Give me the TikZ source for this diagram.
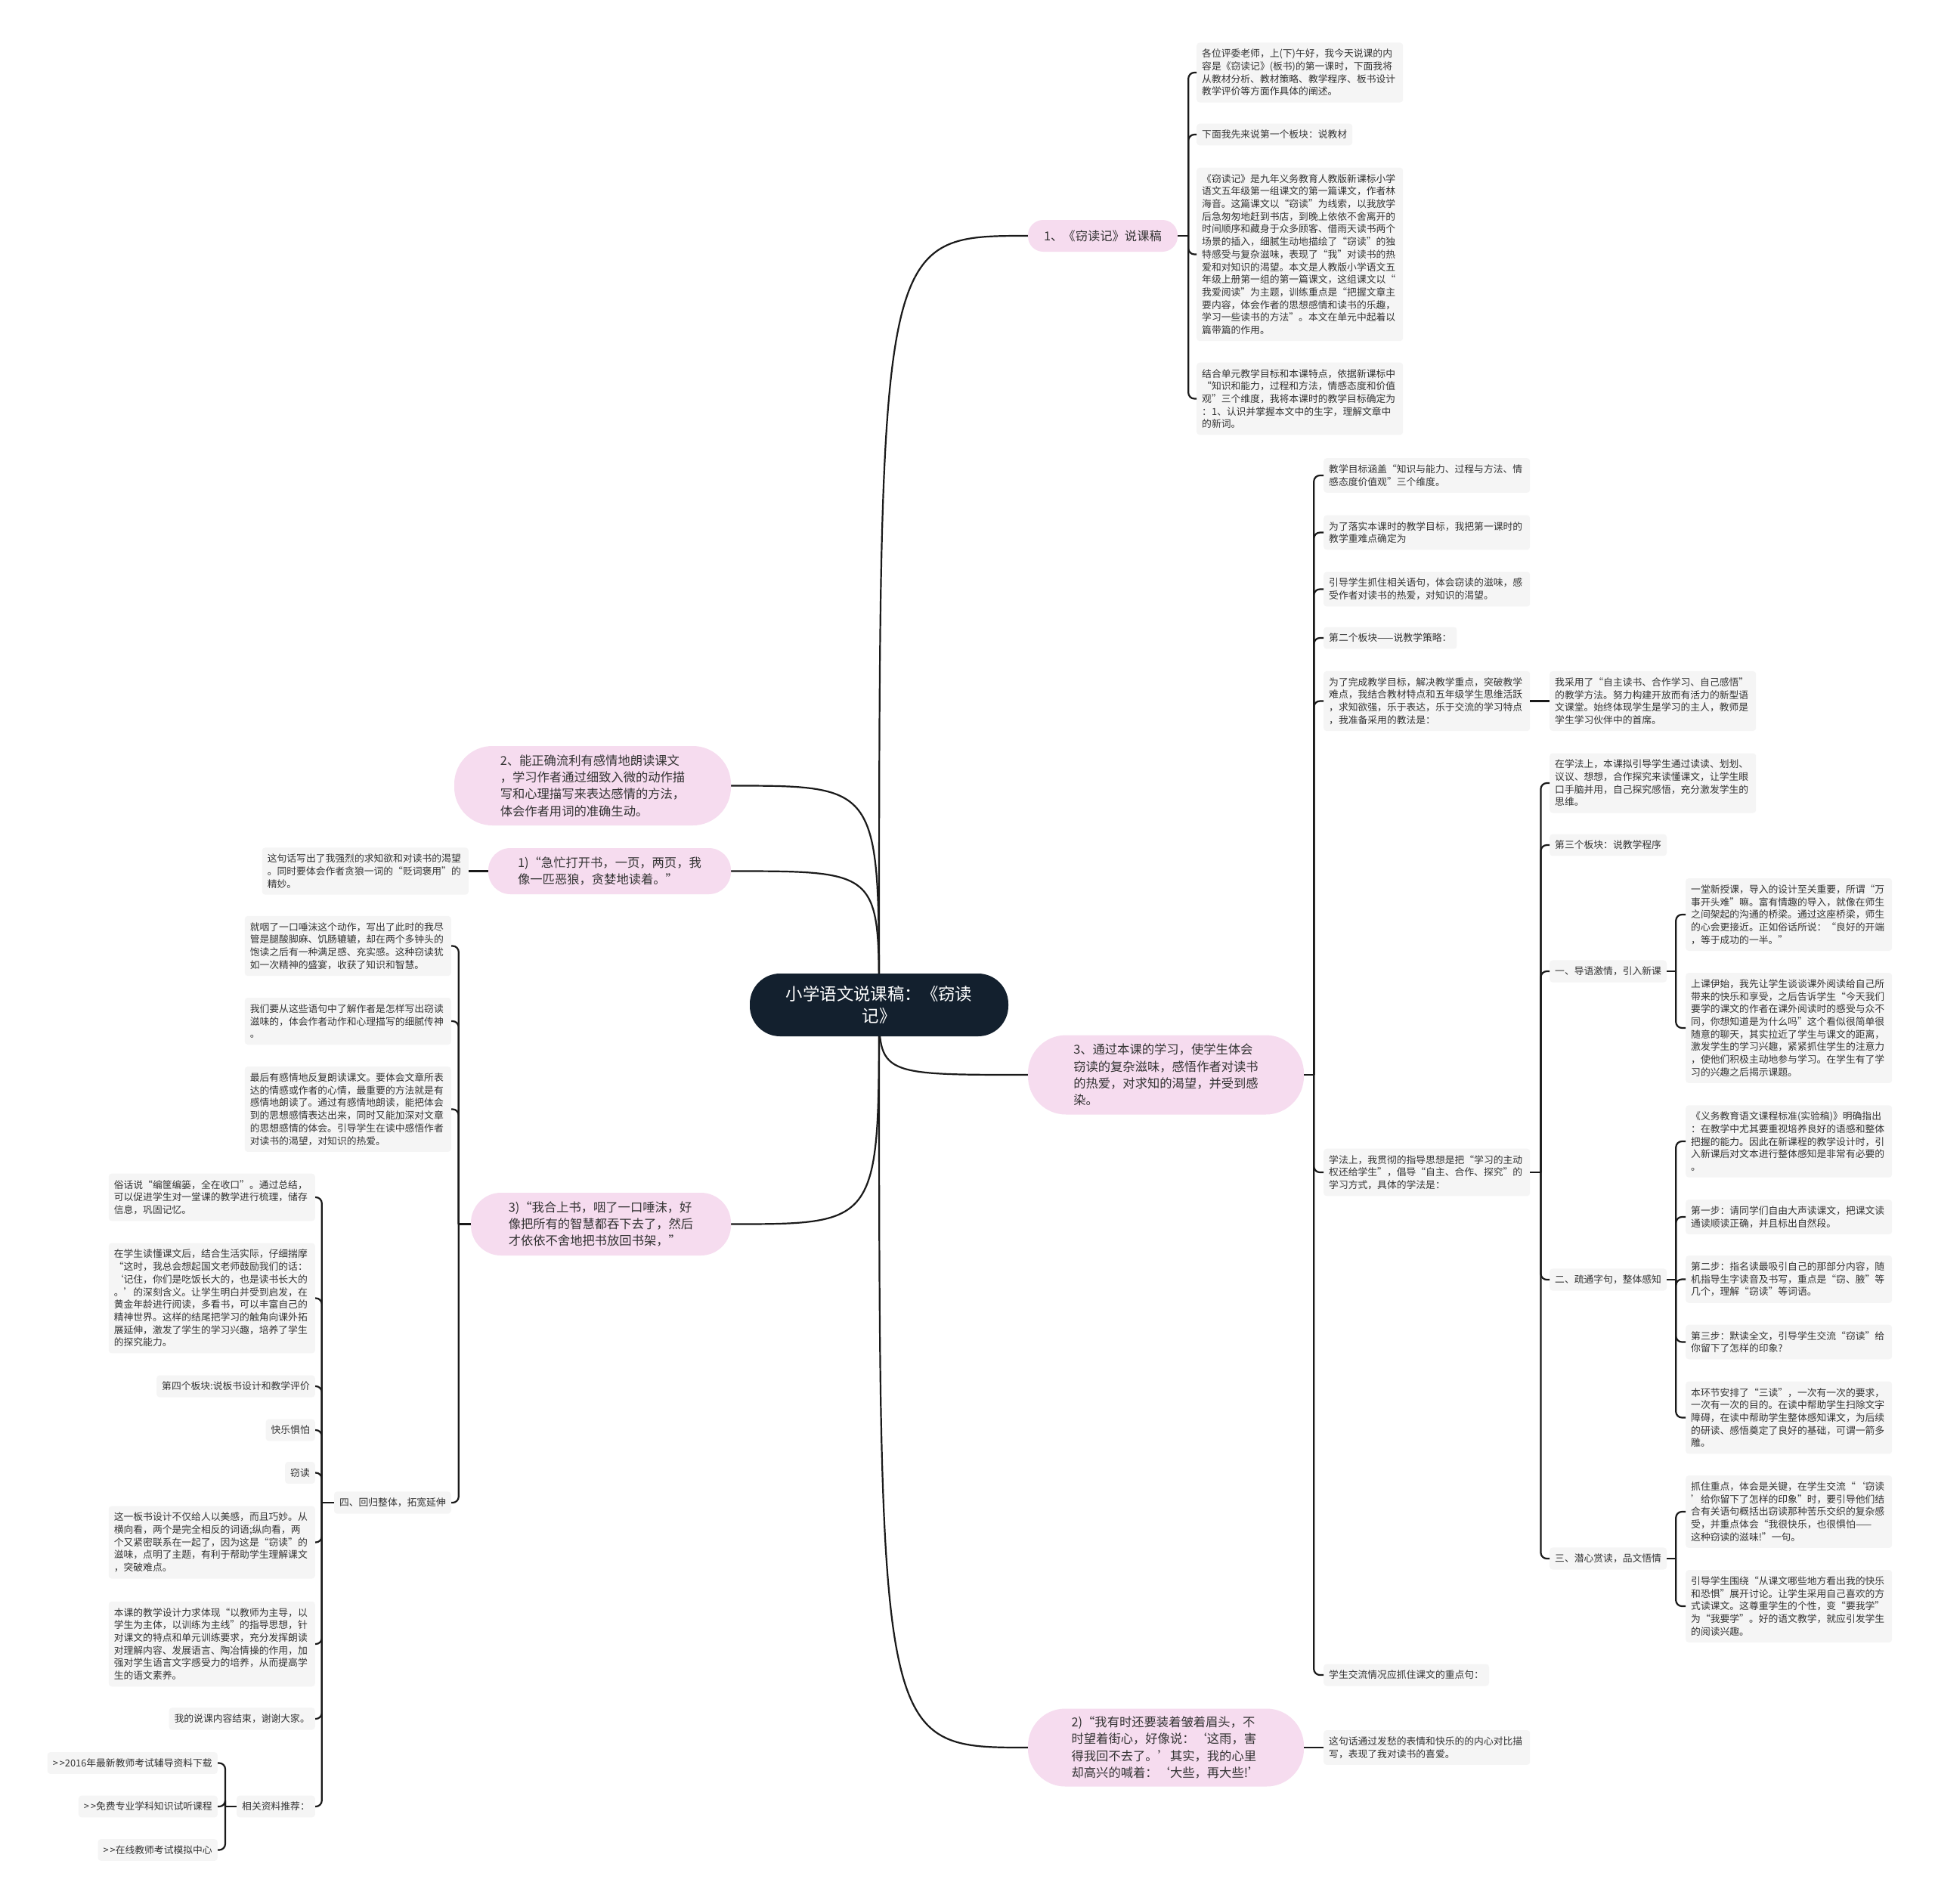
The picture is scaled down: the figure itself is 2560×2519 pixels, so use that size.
\documentclass[tikz,border=0pt]{standalone}
\usepackage{fontspec}
\setmainfont{Noto Sans CJK SC}
\usetikzlibrary{calc, backgrounds}
\definecolor{rootnavy}{HTML}{13202E}
\definecolor{pillpink}{HTML}{F6DCEF}
\definecolor{leafgray}{HTML}{F5F5F5}
\definecolor{inkgray}{HTML}{333333}
\definecolor{linkblack}{HTML}{1A1A1A}

\begin{document}
\begin{tikzpicture}[x=1pt, y=-1pt,
    link/.style={line width=2.2pt, draw=linkblack},
    hook/.style={link, rounded corners=8pt},
    rootnode/.style={fill=rootnavy, text=white, align=center, font=\fontsize{22.4}{29}\selectfont,
      minimum width=342pt, minimum height=83pt, rounded corners=40pt, inner sep=0pt},
    pill/.style 2 args={fill=pillpink, text=inkgray, align=left, font=\fontsize{16.3}{22.3}\selectfont,
      minimum width=#1, minimum height=#2, rounded corners=#2*0.48, inner sep=0pt},
    leaf/.style={fill=leafgray, text=inkgray, align=left, font=\fontsize{12.8}{16.7}\selectfont,
      rounded corners=4pt, inner xsep=7pt, inner ysep=8.5pt},
    para/.style={leaf, text width=259pt}]
  \useasboundingbox (0,0) rectangle (2560,2519);

  % centre
  \node[rootnode] (root) at (1163,1329.5) {小学语文说课稿：《窃读\\记》};

  % main branches, right
  \node[pill={198pt}{42pt}] (lecture) at (1459,312) {1、《窃读记》说课稿};
  \node[pill={365pt}{105pt}] (goalthree) at (1542.5,1422) {3、通过本课的学习，使学生体会\\窃读的复杂滋味，感悟作者对读书\\的热爱，对求知的渴望，并受到感\\染。};
  \node[pill={365pt}{103pt}] (quotetwo) at (1542.5,2312) {2)“我有时还要装着皱着眉头，不\\时望着街心，好像说：‘这雨，害\\得我回不去了。’其实，我的心里\\却高兴的喊着：‘大些，再大些!’};

  % main branches, left
  \node[pill={366pt}{105pt}] (goaltwo) at (784,1039.5) {2、能正确流利有感情地朗读课文\\，学习作者通过细致入微的动作描\\写和心理描写来表达感情的方法，\\体会作者用词的准确生动。};
  \node[pill={321pt}{61pt}] (quoteone) at (806.5,1152.5) {1)“急忙打开书，一页，两页，我\\像一匹恶狼，贪婪地读着。”};
  \node[pill={344pt}{83pt}] (quotethree) at (795,1619.5) {3)“我合上书，咽了一口唾沫，好\\像把所有的智慧都吞下去了，然后\\才依依不舍地把书放回书架，”};

  % 1、说课稿
  \node[para, anchor=west] (greet) at (1583,96) {各位评委老师，上(下)午好，我今天说课的内\\容是《窃读记》(板书)的第一课时，下面我将\\从教材分析、教材策略、教学程序、板书设计\\教学评价等方面作具体的阐述。};
  \node[leaf, anchor=west] (blockone) at (1583,178) {下面我先来说第一个板块：说教材};
  \node[para, anchor=west] (textbook) at (1583,336.5) {《窃读记》是九年义务教育人教版新课标小学\\语文五年级第一组课文的第一篇课文，作者林\\海音。这篇课文以“窃读”为线索，以我放学\\后急匆匆地赶到书店，到晚上依依不舍离开的\\时间顺序和藏身于众多顾客、借雨天读书两个\\场景的插入，细腻生动地描绘了“窃读”的独\\特感受与复杂滋味，表现了“我”对读书的热\\爱和对知识的渴望。本文是人教版小学语文五\\年级上册第一组的第一篇课文，这组课文以“\\我爱阅读”为主题，训练重点是“把握文章主\\要内容，体会作者的思想感情和读书的乐趣，\\学习一些读书的方法”。本文在单元中起着以\\篇带篇的作用。};
  \node[para, anchor=west] (aims) at (1583,527.5) {结合单元教学目标和本课特点，依据新课标中\\“知识和能力，过程和方法，情感态度和价值\\观”三个维度，我将本课时的教学目标确定为\\：1、认识并掌握本文中的生字，理解文章中\\的新词。};

  % 3、
  \node[para, anchor=west] (dims) at (1751,629) {教学目标涵盖“知识与能力、过程与方法、情\\感态度价值观”三个维度。};
  \node[para, anchor=west] (focus) at (1751,704.5) {为了落实本课时的教学目标，我把第一课时的\\教学重难点确定为};
  \node[para, anchor=west] (guide) at (1751,779.5) {引导学生抓住相关语句，体会窃读的滋味，感\\受作者对读书的热爱，对知识的渴望。};
  \node[leaf, anchor=west] (blocktwo) at (1751,844) {第二个板块——说教学策略：};
  \node[para, anchor=west] (method) at (1751,927.5) {为了完成教学目标，解决教学重点，突破教学\\难点，我结合教材特点和五年级学生思维活跃\\，求知欲强，乐于表达，乐于交流的学习特点\\，我准备采用的教法是：};
  \node[para, anchor=west] (teachway) at (2050,927.5) {我采用了“自主读书、合作学习、自己感悟”\\的教学方法。努力构建开放而有活力的新型语\\文课堂。始终体现学生是学习的主人，教师是\\学生学习伙伴中的首席。};
  \node[para, anchor=west] (study) at (1751,1551) {学法上，我贯彻的指导思想是把“学习的主动\\权还给学生”，倡导“自主、合作、探究”的\\学习方式，具体的学法是：};
  \node[leaf, anchor=west] (keyline) at (1751,2216) {学生交流情况应抓住课文的重点句：};

  % 学法
  \node[para, anchor=west] (studyway) at (2050,1036) {在学法上，本课拟引导学生通过读读、划划、\\议议、想想，合作探究来读懂课文，让学生眼\\口手脑并用，自己探究感悟，充分激发学生的\\思维。};
  \node[leaf, anchor=west] (blockthree) at (2050,1118) {第三个板块：说教学程序};
  \node[leaf, anchor=west] (stepone) at (2050,1285) {一、导语激情，引入新课};
  \node[leaf, anchor=west] (steptwo) at (2050,1693) {二、疏通字句，整体感知};
  \node[leaf, anchor=west] (stepthree) at (2050,2062) {三、潜心赏读，品文悟情};

  \node[para, anchor=west] (lead) at (2230,1210) {一堂新授课，导入的设计至关重要，所谓“万\\事开头难”嘛。富有情趣的导入，就像在师生\\之间架起的沟通的桥梁。通过这座桥梁，师生\\的心会更接近。正如俗话所说：“良好的开端\\，等于成功的一半。”};
  \node[para, anchor=west] (opening) at (2230,1360) {上课伊始，我先让学生谈谈课外阅读给自己所\\带来的快乐和享受，之后告诉学生“今天我们\\要学的课文的作者在课外阅读时的感受与众不\\同，你想知道是为什么吗”这个看似很简单很\\随意的聊天，其实拉近了学生与课文的距离，\\激发学生的学习兴趣，紧紧抓住学生的注意力\\，使他们积极主动地参与学习。在学生有了学\\习的兴趣之后揭示课题。};

  \node[para, anchor=west] (standard) at (2230,1510) {《义务教育语文课程标准(实验稿)》明确指出\\：在教学中尤其要重视培养良好的语感和整体\\把握的能力。因此在新课程的教学设计时，引\\入新课后对文本进行整体感知是非常有必要的\\。};
  \node[para, anchor=west] (readone) at (2230,1610) {第一步：请同学们自由大声读课文，把课文读\\通读顺读正确，并且标出自然段。};
  \node[para, anchor=west] (readtwo) at (2230,1692.5) {第二步：指名读最吸引自己的那部分内容，随\\机指导生字读音及书写，重点是“窃、腋”等\\几个，理解“窃读”等词语。};
  \node[para, anchor=west] (readthree) at (2230,1775.5) {第三步：默读全文，引导学生交流“窃读”给\\你留下了怎样的印象?};
  \node[para, anchor=west] (threereads) at (2230,1875.5) {本环节安排了“三读”，一次有一次的要求，\\一次有一次的目的。在读中帮助学生扫除文字\\障碍，在读中帮助学生整体感知课文，为后续\\的研读、感悟奠定了良好的基础，可谓一箭多\\雕。};

  \node[para, anchor=west] (grasp) at (2230,2000) {抓住重点，体会是关键，在学生交流“‘窃读\\’给你留下了怎样的印象”时，要引导他们结\\合有关语句概括出窃读那种苦乐交织的复杂感\\受，并重点体会“我很快乐，也很惧怕——\\这种窃读的滋味!”一句。};
  \node[para, anchor=west] (discuss) at (2230,2125) {引导学生围绕“从课文哪些地方看出我的快乐\\和恐惧”展开讨论。让学生采用自己喜欢的方\\式读课文。这尊重学生的个性，变“要我学”\\为“我要学”。好的语文教学，就应引发学生\\的阅读兴趣。};

  % 2)
  \node[para, anchor=west] (contrast) at (1751,2312) {这句话通过发愁的表情和快乐的的内心对比描\\写，表现了我对读书的喜爱。};

  % 1) and 3), left
  \node[para, anchor=east] (thirst) at (620,1152.5) {这句话写出了我强烈的求知欲和对读书的渴望\\。同时要体会作者贪狼一词的“贬词褒用”的\\精妙。};
  \node[para, anchor=east] (swallow) at (597,1251.5) {就咽了一口唾沫这个动作，写出了此时的我尽\\管是腿酸脚麻、饥肠辘辘，却在两个多钟头的\\饱读之后有一种满足感、充实感。这种窃读犹\\如一次精神的盛宴，收获了知识和智慧。};
  \node[para, anchor=east] (savour) at (597,1351) {我们要从这些语句中了解作者是怎样写出窃读\\滋味的，体会作者动作和心理描写的细腻传神\\。};
  \node[para, anchor=east] (aloud) at (597,1467.5) {最后有感情地反复朗读课文。要体会文章所表\\达的情感或作者的心情，最重要的方法就是有\\感情地朗读了。通过有感情地朗读，能把体会\\到的思想感情表达出来，同时又能加深对文章\\的思想感情的体会。引导学生在读中感悟作者\\对读书的渴望，对知识的热爱。};
  \node[leaf, anchor=east] (stepfour) at (597,1988) {四、回归整体，拓宽延伸};

  \node[para, anchor=east] (wrapup) at (417,1584) {俗话说“编筐编篓，全在收口”。通过总结，\\可以促进学生对一堂课的教学进行梳理，储存\\信息，巩固记忆。};
  \node[para, anchor=east] (extend) at (417,1717.5) {在学生读懂课文后，结合生活实际，仔细揣摩\\“这时，我总会想起国文老师鼓励我们的话：\\‘记住，你们是吃饭长大的，也是读书长大的\\。’的深刻含义。让学生明白并受到启发，在\\黄金年龄进行阅读，多看书，可以丰富自己的\\精神世界。这样的结尾把学习的触角向课外拓\\展延伸，激发了学生的学习兴趣，培养了学生\\的探究能力。};
  \node[leaf, anchor=east] (blockfour) at (417,1834) {第四个板块:说板书设计和教学评价};
  \node[leaf, anchor=east] (joyfear) at (417,1892) {快乐惧怕};
  \node[leaf, anchor=east] (stealread) at (417,1948.5) {窃读};
  \node[para, anchor=east] (boarddesign) at (417,2040.5) {这一板书设计不仅给人以美感，而且巧妙。从\\横向看，两个是完全相反的词语;纵向看，两\\个又紧密联系在一起了，因为这是“窃读”的\\滋味，点明了主题，有利于帮助学生理解课文\\，突破难点。};
  \node[para, anchor=east] (review) at (417,2175) {本课的教学设计力求体现“以教师为主导，以\\学生为主体，以训练为主线”的指导思想，针\\对课文的特点和单元训练要求，充分发挥朗读\\对理解内容、发展语言、陶冶情操的作用，加\\强对学生语言文字感受力的培养，从而提高学\\生的语文素养。};
  \node[leaf, anchor=east] (thanks) at (417,2274) {我的说课内容结束，谢谢大家。};
  \node[leaf, anchor=east] (links) at (417,2390) {相关资料推荐：};

  \node[leaf, anchor=east] (linkone) at (288,2332.5) {>\kern2pt>2016年最新教师考试辅导资料下载};
  \node[leaf, anchor=east] (linktwo) at (288,2390) {>\kern2pt>免费专业学科知识试听课程};
  \node[leaf, anchor=east] (linkthree) at (288,2447.5) {>\kern2pt>在线教师考试模拟中心};

  % curves from the centre
  \begin{scope}[on background layer]
    \fill[white] (0,0) rectangle (2560,2519);
    \foreach \branch in {lecture, goalthree, quotetwo}
      \draw[link] (root.center) .. controls (root.center |- \branch.west) .. (\branch.west);
    \foreach \branch in {goaltwo, quoteone, quotethree}
      \draw[link] (root.center) .. controls (root.center |- \branch.east) .. (\branch.east);
  \end{scope}

  % brackets to the leaves
  \coordinate (lecturebar) at ($(lecture.east)+(14,0)$);
  \draw[link] (lecture.east) -- (lecturebar);
  \foreach \kid in {greet, blockone, textbook, aims}
    \draw[hook] (lecturebar) |- (\kid.west);

  \coordinate (goalthreebar) at ($(goalthree.east)+(13,0)$);
  \draw[link] (goalthree.east) -- (goalthreebar);
  \foreach \kid in {dims, focus, guide, blocktwo, method, study, keyline}
    \draw[hook] (goalthreebar) |- (\kid.west);
  \draw[link] (method.east) -- (teachway.west);

  \coordinate (studybar) at ($(study.east)+(14,0)$);
  \draw[link] (study.east) -- (studybar);
  \foreach \kid in {studyway, blockthree, stepone, steptwo, stepthree}
    \draw[hook] (studybar) |- (\kid.west);

  \foreach \step/\kids in {stepone/{lead, opening}, steptwo/{standard, readone, readtwo, readthree, threereads}, stepthree/{grasp, discuss}} {
    \coordinate (\step bar) at ($(\step.east)+(12,0)$);
    \draw[link] (\step.east) -- (\step bar);
    \foreach \kid in \kids
      \draw[hook] (\step bar) |- (\kid.west);
  }

  \draw[link] (quotetwo.east) -- (contrast.west);
  \draw[link] (quoteone.west) -- (thirst.east);

  \coordinate (quotethreebar) at ($(quotethree.west)+(-16,0)$);
  \draw[link] (quotethree.west) -- (quotethreebar);
  \foreach \kid in {swallow, savour, aloud, stepfour}
    \draw[hook] (quotethreebar) |- (\kid.east);

  \coordinate (stepfourbar) at ($(stepfour.west)+(-16,0)$);
  \draw[link] (stepfour.west) -- (stepfourbar);
  \foreach \kid in {wrapup, extend, blockfour, joyfear, stealread, boarddesign, review, thanks, links}
    \draw[hook] (stepfourbar) |- (\kid.east);

  \coordinate (linksbar) at ($(links.west)+(-15,0)$);
  \draw[link] (links.west) -- (linksbar);
  \foreach \kid in {linkone, linktwo, linkthree}
    \draw[hook] (linksbar) |- (\kid.east);
\end{tikzpicture}
\end{document}
